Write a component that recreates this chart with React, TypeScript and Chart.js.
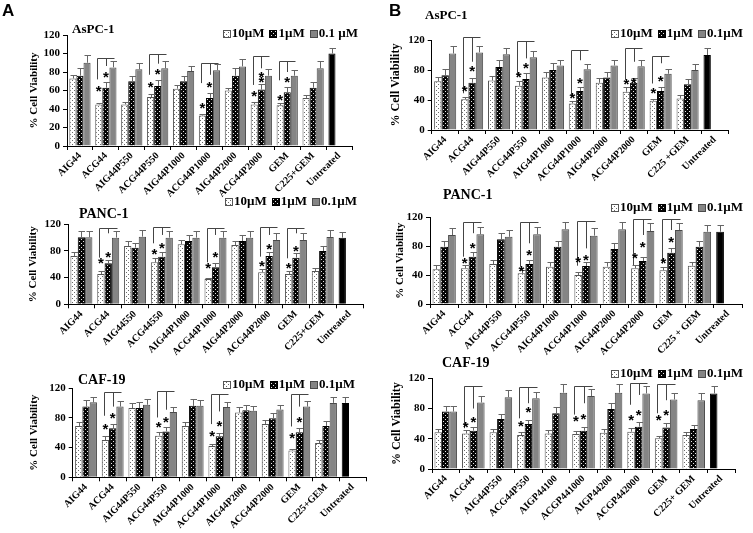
import React, { useEffect, useRef } from "react";
import { Chart, registerables } from "chart.js";
Chart.register(...registerables);

// ---------- DATA ----------
const SERIES = ["10µM", "1µM", "0.1µM"];
const SERIES_A1 = ["10µM", "1µM", "0.1 µM"];

// A – AsPC-1
const A1_LABELS = ["AIG44", "ACG44", "AIG44P550", "ACG44P550", "AIG44P1000", "ACG44P1000", "AIG44P2000", "ACG44P2000", "GEM", "C225+GEM", "Untreated"];
const A1_V10 = [73, 45, 45, 53, 62, 33, 60, 45, 44, 52, 100];
const A1_S10 = [4, 2, 3, 3, 4, 2, 3, 3, 3, 3, 6];
const A1_V1 = [76, 63, 70, 65, 70, 52, 76, 61, 58, 63, null];
const A1_S1 = [8, 6, 6, 6, 6, 5, 8, 6, 6, 6, null];
const A1_V01 = [90, 85, 83, 84, 81, 82, 86, 76, 76, 84, null];
const A1_S01 = [8, 7, 7, 8, 6, 7, 8, 7, 6, 8, null];
// [group, series, y]
const A1_STARS = [[1, 0, 63], [1, 1, 78.5], [3, 0, 68], [3, 1, 82], [5, 0, 45], [5, 1, 68], [7, 0, 57.6], [7, 1, 78.5], [7, 1, 73.5], [8, 0, 54], [8, 1, 73]];
// [group, top, left bottom, middle bottom]
const A1_BRACKETS = [[1, 95, 72, 86.5], [3, 99, 77, 89], [5, 89.4, 68, 77], [7, 97, 66, 84], [8, 92, 71, 80]];

// A – PANC-1
const A2_LABELS = ["AIG44", "ACG44", "AIG44550", "ACG44550", "AIG44P1000", "ACG44P1000", "AIG44P2000", "ACG44P2000", "GEM", "C225+GEM", "Untreated"];
const A2_V10 = [72.5, 45.5, 87.5, 63, 90, 38, 89, 48, 45.5, 50, 100];
const A2_S10 = [5.5, 4.5, 7.5, 6, 6.5, 2, 6, 4.5, 4.5, 4, 9];
const A2_V1 = [100.5, 61.5, 85, 71.5, 95, 55.5, 95, 72.5, 70, 80, null];
const A2_S1 = [9.5, 5, 7.5, 6.5, 9, 6, 9, 5.5, 6.5, 7.5, null];
const A2_V01 = [100.5, 100, 101.5, 100, 100, 100, 100, 96.5, 96.5, 101, null];
const A2_S01 = [9.5, 10, 10, 10, 10, 10, 10, 10, 10, 10.5, null];
const A2_STARS = [[1, 0, 66.5], [1, 1, 76.5], [3, 0, 80], [3, 1, 90], [5, 0, 59], [5, 1, 76.5], [7, 0, 63], [7, 1, 88], [8, 0, 60], [8, 1, 85.5]];
const A2_BRACKETS = [[1, 115, 70, 106.5], [3, 116.5, 91.5, 104], [5, 114, 63, 104], [7, 116.5, 71.5, 104], [8, 115, 69, 106.5]];

// A – CAF-19
const A3_LABELS = ["AIG44", "ACG44", "AIG44P550", "ACG44P550", "AIG44P1000", "ACG44P1000", "AIG44P2000", "ACG44P2000", "GEM", "C225+GEM", "Untreated"];
const A3_V10 = [69, 50, 93, 56, 69, 42, 87, 71.5, 36, 46, 100];
const A3_S10 = [5, 5, 7, 5, 5, 3, 7, 5, 2, 3.5, 8];
const A3_V1 = [95, 66, 93, 61.6, 96, 55, 90, 79.5, 60.7, 69, null];
const A3_S1 = [9, 6, 8, 5.5, 9, 4, 7.5, 6.5, 5.5, 7, null];
const A3_V01 = [100.7, 95, 97.5, 87.6, 96, 94.4, 89.4, 91, 95, 100, null];
const A3_S01 = [7.5, 8, 7.5, 7, 8, 7, 6.5, 6.5, 8, 8, null];
const A3_STARS = [[1, 0, 69], [1, 1, 84], [3, 0, 72.8], [3, 1, 78.7], [5, 0, 60.7], [5, 1, 74], [8, 0, 57], [8, 1, 78.7]];
const A3_BRACKETS = [[1, 114, 82.7, 95], [3, 115.5, 80.4, 90.8], [5, 112, 71.5, 88.5], [8, 112, 68.3, 95]];

// B – AsPC-1
const B1_LABELS = ["AIG44", "ACG44", "AIG44P550", "ACG44P550", "AIG44P1000", "ACG44P1000", "AIG44P2000", "ACG44P2000", "GEM", "C225 +GEM", "Untreated"];
const B1_V10 = [65, 41, 66, 59, 70, 35.5, 63, 51, 39, 42, 100];
const B1_S10 = [6, 3, 6, 6, 8, 3, 7, 6, 3, 5, 10];
const B1_V1 = [73, 63, 84, 68, 80, 52, 70, 63, 52, 61, null];
const B1_S1 = [8, 7, 9, 7.5, 9, 5, 8, 7, 5, 6.5, null];
const B1_V01 = [102, 103.5, 101, 97, 86, 81, 86, 85, 75, 80, null];
const B1_S01 = [10, 8.5, 9, 9, 8, 7, 8, 8, 7, 7.5, null];
const B1_STARS = [[1, 0, 57], [1, 1, 84], [3, 0, 75.5], [3, 1, 87.5], [5, 0, 47], [5, 1, 68], [7, 0, 66], [7, 1, 67], [8, 0, 54], [8, 1, 70]];
const B1_BRACKETS = [[1, 124, 49, 91], [3, 119, 73, 95.5], [5, 107, 45, 93], [7, 109, 67, 91], [8, 99, 62, 89]];

// B – PANC-1
const B2_LABELS = ["AIG44", "ACG44", "AIG44P550", "ACG44P550", "AIG44P1000", "ACG44P1000", "AIG44P2000", "ACG44P2000", "GEM", "C225 + GEM", "Untreated"];
const B2_V10 = [48, 49.4, 55.4, 42.5, 51.7, 40, 51.7, 49.4, 46.6, 53, 100];
const B2_S10 = [6, 4.6, 5.6, 4.5, 6, 4.8, 6, 4.6, 4.4, 5.6, 10];
const B2_V1 = [79.4, 65.5, 89.5, 55.4, 79.4, 52.6, 76, 59.5, 71, 79.4, null];
const B2_S1 = [7.6, 7, 8.5, 5.6, 7.6, 5.1, 8, 5.1, 7, 7.6, null];
const B2_V01 = [95.5, 96.5, 93, 96.5, 103.4, 94.6, 103.4, 101, 102.4, 100, null];
const B2_S01 = [10.2, 9.5, 10, 9.5, 10.6, 10.2, 10.6, 10.7, 10.2, 10, null];
const B2_STARS = [[1, 0, 61], [1, 1, 83], [3, 0, 50], [3, 1, 73], [5, 0, 63], [5, 1, 65.5], [7, 0, 69], [7, 1, 84], [8, 0, 61], [8, 1, 91]];
const B2_BRACKETS = [[1, 114, 65.5, 98], [3, 114, 51.7, 84], [5, 115, 53, 77], [7, 117, 54, 95.5], [8, 117, 56, 102.4]];

// B – CAF-19
const B3_LABELS = ["AIG44", "ACG44", "AIG44P550", "ACG44P550", "AIGP44100", "ACGP441000", "AIGP44200", "ACGP442000", "GEM", "C225+ GEM", "Untreated"];
const B3_V10 = [48.5, 47, 48.5, 45, 47, 46.3, 48, 49.4, 40.6, 45, 100];
const B3_S10 = [4.5, 4.6, 4.5, 4.4, 4.6, 4.4, 5, 5.3, 3.4, 4.4, 10];
const B3_V1 = [76, 50.7, 66, 59.5, 73.7, 50.7, 79.4, 56, 55, 53, null];
const B3_S1 = [7.4, 5.3, 6.8, 5.5, 7.9, 5.3, 7.6, 5.8, 5.4, 5, null];
const B3_V01 = [76, 88, 95, 93.5, 101, 96.6, 101, 100, 92, 91, null];
const B3_S01 = [7.4, 9, 9.5, 8.8, 11, 9.4, 11, 10, 9, 9, null];
const B3_STARS = [[1, 0, 60.4], [1, 1, 67], [3, 0, 61.3], [3, 1, 80], [5, 0, 68], [5, 1, 70.6], [7, 0, 69], [7, 1, 76], [8, 0, 69], [8, 1, 76]];
const B3_BRACKETS = [[1, 110, 54, 80], [3, 109, 67, 87], [5, 110, 72, 87], [7, 114, 85, 98], [8, 112, 73.7, 91]];

const Y_TICK_MAX = 120;
const Y_TICK_STEP = 20;
const Y_TITLE = "% Cell Viability";

// ---------- LAYOUT ----------
const SERIF = '"Liberation Serif", "Times New Roman", serif';
const SANS = '"Liberation Sans", Arial, sans-serif';

type Cfg = {
  title: string; names: string[]; labels: string[];
  v: (number | null)[][]; s: (number | null)[][];
  stars: number[][]; brackets: number[][];
  box: { x: number; y: number; w: number; h: number };
  plot: { l: number; t: number; r: number; b: number };
  yTitleCx: number; yTitleSize: number;
  titlePos: { x: number; y: number; size: number };
  legendPos: { r: number; y: number };
};

const PANELS: Cfg[] = [
  {
    title: "AsPC-1", names: SERIES_A1, labels: A1_LABELS, v: [A1_V10, A1_V1, A1_V01], s: [A1_S10, A1_S1, A1_S01],
    stars: A1_STARS, brackets: A1_BRACKETS,
    box: { x: 0, y: 0, w: 372, h: 210 }, plot: { l: 67, t: 35, r: 352, b: 146 },
    yTitleCx: 34, yTitleSize: 11, titlePos: { x: 72, y: 30, size: 13 }, legendPos: { r: 358, y: 33 },
  },
  {
    title: "PANC-1", names: SERIES, labels: A2_LABELS, v: [A2_V10, A2_V1, A2_V01], s: [A2_S10, A2_S1, A2_S01],
    stars: A2_STARS, brackets: A2_BRACKETS,
    box: { x: 0, y: 170, w: 372, h: 200 }, plot: { l: 68, t: 224.3, r: 363, b: 304.3 },
    yTitleCx: 33, yTitleSize: 11, titlePos: { x: 79, y: 214, size: 14 }, legendPos: { r: 357, y: 201 },
  },
  {
    title: "CAF-19", names: SERIES, labels: A3_LABELS, v: [A3_V10, A3_V1, A3_V01], s: [A3_S10, A3_S1, A3_S01],
    stars: A3_STARS, brackets: A3_BRACKETS,
    box: { x: 0, y: 340, w: 372, h: 200 }, plot: { l: 72.7, t: 388, r: 366, b: 477.3 },
    yTitleCx: 34, yTitleSize: 11, titlePos: { x: 78, y: 380, size: 14 }, legendPos: { r: 355, y: 384 },
  },
  {
    title: "AsPC-1", names: SERIES, labels: B1_LABELS, v: [B1_V10, B1_V1, B1_V01], s: [B1_S10, B1_S1, B1_S01],
    stars: B1_STARS, brackets: B1_BRACKETS,
    box: { x: 374, y: 0, w: 379, h: 200 }, plot: { l: 431.7, t: 40, r: 728, b: 130 },
    yTitleCx: 396, yTitleSize: 12, titlePos: { x: 425, y: 16, size: 13 }, legendPos: { r: 743, y: 33 },
  },
  {
    title: "PANC-1", names: SERIES, labels: B2_LABELS, v: [B2_V10, B2_V1, B2_V01], s: [B2_S10, B2_S1, B2_S01],
    stars: B2_STARS, brackets: B2_BRACKETS,
    box: { x: 374, y: 170, w: 379, h: 200 }, plot: { l: 430, t: 217.3, r: 742, b: 304 },
    yTitleCx: 400, yTitleSize: 11, titlePos: { x: 443, y: 195, size: 14 }, legendPos: { r: 743, y: 207 },
  },
  {
    title: "CAF-19", names: SERIES, labels: B3_LABELS, v: [B3_V10, B3_V1, B3_V01], s: [B3_S10, B3_S1, B3_S01],
    stars: B3_STARS, brackets: B3_BRACKETS,
    box: { x: 374, y: 340, w: 379, h: 200 }, plot: { l: 432, t: 378.3, r: 735, b: 469 },
    yTitleCx: 397, yTitleSize: 12, titlePos: { x: 442, y: 363, size: 14 }, legendPos: { r: 743, y: 373 },
  },
];

function makePattern(bg: string, fg: string, size: number, dots: number[][]) {
  const c = document.createElement("canvas");
  c.width = size; c.height = size;
  const g = c.getContext("2d")!;
  g.fillStyle = bg; g.fillRect(0, 0, size, size);
  g.fillStyle = fg;
  dots.forEach(([x, y]) => g.fillRect(x, y, 1, 1));
  return g.createPattern(c, "repeat")!;
}

function Panel({ cfg }: { cfg: Cfg }) {
  const ref = useRef<HTMLCanvasElement>(null);
  useEffect(() => {
    const canvas = ref.current!;
    const p10 = makePattern("#ffffff", "#6a6a6a", 4, [[0, 0], [2, 2]]);
    const p1 = makePattern("#060606", "#e8e8e8", 4, [[1, 1], [3, 3]]);
    const grey = "#858585";
    const fills = [p10, p1, grey];
    const borders = ["#555", "#000", "#4a4a4a"];
    const { box, plot } = cfg;
    const lh = cfg.yTitleSize * 1.2;
    const axisLeft = cfg.yTitleCx - lh / 2;
    const yw = plot.l - axisLeft;
    const xh = 62;
    const last = cfg.labels.length - 1;

    const annot = {
      id: "annot",
      afterDatasetsDraw(chart: any) {
        const ctx = chart.ctx as CanvasRenderingContext2D;
        const ys = chart.scales.y;
        ctx.save();
        // error bars
        ctx.strokeStyle = "#666";
        ctx.lineWidth = 1;
        for (let d = 0; d < 3; d++) {
          const meta = chart.getDatasetMeta(d);
          meta.data.forEach((bar: any, i: number) => {
            const v = cfg.v[d][i];
            const sd = cfg.s[d][i];
            if (v == null || sd == null) return;
            const x = Math.round(bar.x) + 0.5;
            const y0 = ys.getPixelForValue(v);
            const y1 = Math.round(ys.getPixelForValue(v + sd)) + 0.5;
            ctx.beginPath();
            ctx.moveTo(x, y0);
            ctx.lineTo(x, y1);
            ctx.moveTo(x - 3, y1);
            ctx.lineTo(x + 3.5, y1);
            ctx.stroke();
          });
        }
        // brackets
        ctx.strokeStyle = "#444";
        cfg.brackets.forEach(([g, top, lb, mb]) => {
          const x0 = Math.round(chart.getDatasetMeta(0).data[g].x - 1.5) + 0.5;
          const x1 = Math.round(chart.getDatasetMeta(1).data[g].x) + 0.5;
          const x2 = Math.round(chart.getDatasetMeta(2).data[g].x + 1) + 0.5;
          const yt = Math.round(ys.getPixelForValue(top)) + 0.5;
          ctx.beginPath();
          ctx.moveTo(x0, ys.getPixelForValue(lb));
          ctx.lineTo(x0, yt);
          ctx.lineTo(x2, yt);
          ctx.moveTo(x1, yt);
          ctx.lineTo(x1, ys.getPixelForValue(mb));
          ctx.stroke();
        });
        // asterisks
        ctx.fillStyle = "#000";
        ctx.font = `bold 15px ${SANS}`;
        ctx.textAlign = "center";
        ctx.textBaseline = "alphabetic";
        cfg.stars.forEach(([g, d, y]) => {
          const x = chart.getDatasetMeta(d).data[g].x;
          ctx.fillText("*", x, ys.getPixelForValue(y) + 8.5);
        });
        ctx.restore();
      },
      afterDraw(chart: any) {
        const ctx = chart.ctx as CanvasRenderingContext2D;
        ctx.save();
        ctx.fillStyle = "#000";
        ctx.textBaseline = "middle";
        ctx.textAlign = "left";
        ctx.font = `bold ${cfg.titlePos.size}px ${SERIF}`;
        ctx.fillText(cfg.title, cfg.titlePos.x - box.x, cfg.titlePos.y - box.y);
        // legend
        ctx.font = `bold 13px ${SERIF}`;
        const sw = 7, gap = 2, sp = 5;
        const widths = cfg.names.map((n) => ctx.measureText(n).width);
        const total = widths.reduce((a, w) => a + sw + gap + w, 0) + sp * (cfg.names.length - 1);
        let x = cfg.legendPos.r - box.x - total;
        const cy = cfg.legendPos.y - box.y;
        cfg.names.forEach((n, i) => {
          const bx = Math.round(x) + 0.5, by = Math.round(cy - sw / 2) + 0.5;
          ctx.fillStyle = fills[i] as any;
          ctx.fillRect(bx, by, sw, sw);
          ctx.strokeStyle = borders[i];
          ctx.lineWidth = 1;
          ctx.strokeRect(bx, by, sw, sw);
          ctx.fillStyle = "#000";
          ctx.fillText(n, x + sw + gap, cy + 1);
          x += sw + gap + widths[i] + sp;
        });
        ctx.restore();
      },
    };

    const mk = (d: number) => ({
      label: cfg.names[d],
      data: cfg.v[d],
      backgroundColor: cfg.labels.map((_, i) => (i === last ? "#000" : fills[d])),
      borderColor: cfg.labels.map((_, i) => (i === last ? "#000" : borders[d])),
      borderWidth: 1,
      categoryPercentage: 0.82,
      barPercentage: 1,
    });

    const chart = new Chart(canvas, {
      type: "bar",
      data: { labels: cfg.labels, datasets: [mk(0), mk(1), mk(2)] as any },
      options: {
        responsive: false,
        animation: false,
        devicePixelRatio: 1,
        layout: {
          padding: {
            left: axisLeft - box.x,
            top: plot.t - box.y,
            right: box.x + box.w - plot.r,
            bottom: box.y + box.h - plot.b - xh,
          },
        },
        plugins: { legend: { display: false }, tooltip: { enabled: false }, title: { display: false } },
        scales: {
          x: {
            offset: true,
            grid: { offset: true, drawOnChartArea: false, drawTicks: true, tickLength: 4, color: "#000" },
            border: { display: true, color: "#000", width: 1 },
            ticks: {
              autoSkip: false, maxRotation: 45, minRotation: 45, padding: 0, color: "#000",
              font: { family: SERIF, size: 10, weight: "bold" },
            },
            afterFit: (s: any) => { s.height = xh; s.paddingLeft = 0; s.paddingRight = 0; },
          },
          y: {
            min: 0, max: Y_TICK_MAX,
            grid: { drawOnChartArea: false, drawTicks: true, tickLength: 4, color: "#000" },
            border: { display: true, color: "#000", width: 1 },
            ticks: { stepSize: Y_TICK_STEP, padding: 3, color: "#000", font: { family: SERIF, size: 11, weight: "bold" } },
            title: { display: true, text: Y_TITLE, color: "#000", padding: 0, font: { family: SERIF, size: cfg.yTitleSize, weight: "bold" } },
            afterFit: (s: any) => { s.width = yw; s.paddingTop = 0; s.paddingBottom = 0; },
          },
        },
      } as any,
      plugins: [annot],
    });
    return () => chart.destroy();
  }, [cfg]);
  return (
    <canvas
      ref={ref}
      width={cfg.box.w}
      height={cfg.box.h}
      style={{ position: "absolute", left: cfg.box.x, top: cfg.box.y, width: cfg.box.w, height: cfg.box.h }}
    />
  );
}

export default function App() {
  return (
    <div style={{ position: "absolute", left: 0, top: 0, width: 753, height: 533, background: "#fff", overflow: "hidden" }}>
      {PANELS.map((p, i) => <Panel key={i} cfg={p} />)}
      <div style={{ position: "absolute", left: 2, top: 1, font: `bold 17px ${SANS}`, color: "#000" }}>A</div>
      <div style={{ position: "absolute", left: 389, top: 1, font: `bold 17px ${SANS}`, color: "#000" }}>B</div>
    </div>
  );
}
